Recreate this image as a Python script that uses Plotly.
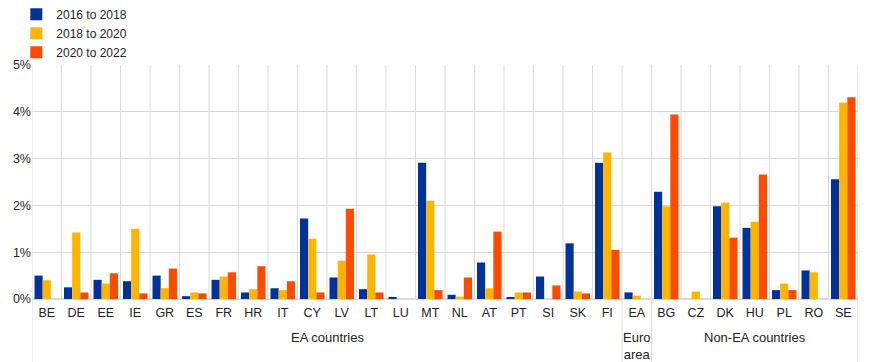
import plotly.graph_objects as go

categories = ["BE", "DE", "EE", "IE", "GR", "ES", "FR", "HR", "IT", "CY", "LV", "LT", "LU", "MT",
              "NL", "AT", "PT", "SI", "SK", "FI", "EA", "BG", "CZ", "DK", "HU", "PL", "RO", "SE"]
s_2016_2018 = [0.50, 0.25, 0.41, 0.38, 0.50, 0.06, 0.41, 0.14, 0.23, 1.72, 0.46, 0.21, 0.04, 2.91,
               0.09, 0.78, 0.03, 0.48, 1.19, 2.91, 0.14, 2.29, None, 1.98, 1.52, 0.19, 0.61, 2.56]
s_2018_2020 = [0.40, 1.42, 0.33, 1.50, 0.23, 0.14, 0.48, 0.21, 0.19, 1.29, 0.82, 0.95, None, 2.10,
               0.05, 0.23, 0.14, None, 0.16, 3.13, 0.07, 1.98, 0.16, 2.06, 1.65, 0.33, 0.57, 4.20]
s_2020_2022 = [None, 0.14, 0.55, 0.12, 0.65, 0.12, 0.57, 0.70, 0.38, 0.14, 1.93, 0.14, None, 0.19,
               0.46, 1.44, 0.14, 0.29, 0.12, 1.05, None, 3.94, None, 1.31, 2.66, 0.19, None, 4.31]
series_names = ["2016 to 2018", "2018 to 2020", "2020 to 2022"]
series_colors = ["#003299", "#FFB400", "#FF4B00"]
groups = [("EA countries", 0, 19), ("Euro<br>area", 20, 20), ("Non-EA countries", 21, 27)]
y_ticks = [0, 1, 2, 3, 4, 5]

fig = go.Figure()
for name, vals, col in zip(series_names, [s_2016_2018, s_2018_2020, s_2020_2022], series_colors):
    fig.add_trace(go.Bar(x=categories, y=vals, name=name, marker=dict(color=col, line=dict(width=0))))

grid = "#d9d9d9"
shapes = []
boundaries = set()
for _, a, b in groups:
    boundaries.add(a - 0.5)
    boundaries.add(b + 0.5)
for i in range(len(categories) + 1):
    xv = i - 0.5
    if xv in boundaries:
        shapes.append(dict(type="line", xref="x", yref="paper", x0=xv, x1=xv, y0=-0.3, y1=1,
                           line=dict(color=grid, width=1), layer="below"))
    else:
        shapes.append(dict(type="line", xref="x", yref="y", x0=xv, x1=xv, y0=0, y1=5,
                           line=dict(color=grid, width=1), layer="below"))

annotations = []
for label, a, b in groups:
    annotations.append(dict(x=(a + b) / 2, y=-0.122, xref="x", yref="paper", text=label,
                            showarrow=False, yanchor="top", font=dict(size=13, color="#222")))

# The page body adds an 8px offset, so the figure is 8px smaller than the window.
fig.update_layout(
    width=866, height=354,
    margin=dict(l=24, r=16, t=57, b=63, autoexpand=False),
    paper_bgcolor="white", plot_bgcolor="white",
    barmode="group", bargap=0.17, bargroupgap=0,
    font=dict(family="Liberation Sans, Arial, sans-serif", size=13, color="#222"),
    xaxis=dict(type="category", showgrid=False, showline=False, ticks="outside", ticklen=2,
               tickcolor="rgba(0,0,0,0)", tickfont=dict(size=12.5),
               range=[-0.5, len(categories) - 0.5], automargin=False),
    yaxis=dict(range=[0, 5], tickvals=y_ticks, ticktext=[f"{v}%" for v in y_ticks],
               showgrid=True, gridcolor=grid, gridwidth=1, zeroline=True, zerolinecolor=grid,
               showline=False, ticks="", tickfont=dict(size=12.5), automargin=False),
    legend=dict(x=-0.019, y=1.2786, xanchor="left", yanchor="top",
                orientation="v", font=dict(size=12), bgcolor="rgba(0,0,0,0)", tracegroupgap=0),
    shapes=shapes,
    annotations=annotations,
)

fig.write_html("out.html")
